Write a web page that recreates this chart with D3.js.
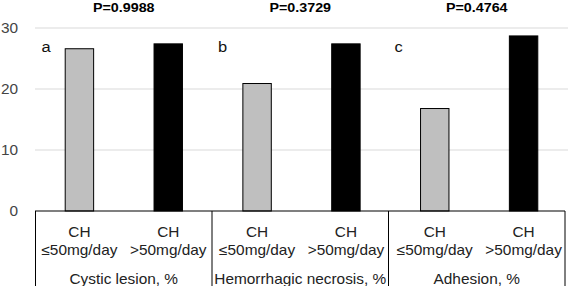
<!DOCTYPE html>
<html>
<head>
<meta charset="utf-8">
<script src="https://cdn.jsdelivr.net/npm/d3@7"></script>
<style>
  body { margin: 0; background: #fff; }
  svg { font-family: "Liberation Sans", Arial, sans-serif; }
</style>
</head>
<body>
<script>
// chart data
const groups = ["Cystic lesion, %", "Hemorrhagic necrosis, %", "Adhesion, %"]
const panelLetters = ["a", "b", "c"]
const pValues = ["P=0.9988", "P=0.3729", "P=0.4764"]
const doseLabels = ["≤50mg/day", ">50mg/day"]
const lowDose = [26.6, 20.9, 16.8]
const highDose = [27.4, 27.4, 28.7]
const yTicks = [0, 10, 20, 30]

const width = 568, height = 286
const margin = {top: 28, right: 0, bottom: 75, left: 35}
const tableRight = 565
const sx = 1.1   // text in the picture is a bit stretched sideways

const svg = d3.select("body").append("svg")
    .attr("width", width)
    .attr("height", height)

const bars = []
groups.forEach((g, i) => {
    bars.push({key: i + "-0", group: i, dose: 0, value: lowDose[i]})
    bars.push({key: i + "-1", group: i, dose: 1, value: highDose[i]})
})

const x = d3.scaleBand()
    .domain(bars.map(d => d.key))
    .range([margin.left, width - margin.right])
    .paddingInner(0.68)
    .paddingOuter(0.34)

const groupX = d3.scaleBand()
    .domain(groups)
    .range([margin.left + 0.5, tableRight])

const y = d3.scaleLinear()
    .domain([0, 30])
    .range([height - margin.bottom, margin.top])

function label(sel, cx, cy, txt, size, weight, fill) {
    sel.append("text")
        .attr("transform", `translate(${cx},${cy}) scale(${sx},1)`)
        .attr("text-anchor", "middle")
        .attr("font-size", size)
        .attr("font-weight", weight || "normal")
        .attr("fill", fill || "#222")
        .text(txt)
}

// gridlines
svg.append("g")
    .selectAll("line")
    .data(yTicks.filter(t => t > 0))
    .join("line")
    .attr("x1", margin.left)
    .attr("x2", width - margin.right)
    .attr("y1", d => y(d))
    .attr("y2", d => y(d))
    .attr("stroke", "#d9d9d9")
    .attr("stroke-width", 1)

// y labels
const yl = svg.append("g")
yTicks.forEach(t => {
    yl.append("text")
        .attr("transform", `translate(18,${y(t)}) scale(${sx},1)`)
        .attr("dy", "0.35em")
        .attr("text-anchor", "end")
        .attr("font-size", 14)
        .attr("fill", "#444")
        .text(t)
})

// bars
svg.append("g")
    .selectAll("rect")
    .data(bars)
    .join("rect")
    .attr("x", d => x(d.key))
    .attr("width", x.bandwidth())
    .attr("y", d => y(d.value))
    .attr("height", d => y(0) - y(d.value))
    .attr("fill", d => d.dose === 0 ? "#bfbfbf" : "#000")
    .attr("stroke", "#000")
    .attr("stroke-width", 1)

// table below axis
const base = y(0)
const tbl = svg.append("g")
tbl.append("line")
    .attr("x1", margin.left).attr("x2", tableRight)
    .attr("y1", base).attr("y2", base)
    .attr("stroke", "#000").attr("stroke-width", 1.2)
tbl.selectAll("line.div")
    .data(groups.concat(["end"]))
    .join("line")
    .attr("class", "div")
    .attr("x1", (d, i) => i < groups.length ? groupX(d) : tableRight)
    .attr("x2", (d, i) => i < groups.length ? groupX(d) : tableRight)
    .attr("y1", base)
    .attr("y2", height)
    .attr("stroke", "#000")
    .attr("stroke-width", 1)

bars.forEach(d => {
    const cx = x(d.key) + x.bandwidth() / 2
    label(tbl, cx, 237, "CH", 14)
    label(tbl, cx, 255, doseLabels[d.dose], 14)
})
groups.forEach(g => {
    label(tbl, groupX(g) + groupX.bandwidth() / 2, 284, g, 14)
})

// panel letters
svg.append("g")
    .selectAll("text")
    .data(panelLetters)
    .join("text")
    .attr("transform", (d, i) => `translate(${groupX(groups[i]) + 6},52) scale(${sx},1)`)
    .attr("font-size", 15)
    .attr("fill", "#111")
    .text(d => d)

// p values
const pv = svg.append("g")
pValues.forEach((p, i) => {
    label(pv, groupX(groups[i]) + groupX.bandwidth() / 2, 12, p, 13, "bold", "#000")
})
</script>
</body>
</html>
